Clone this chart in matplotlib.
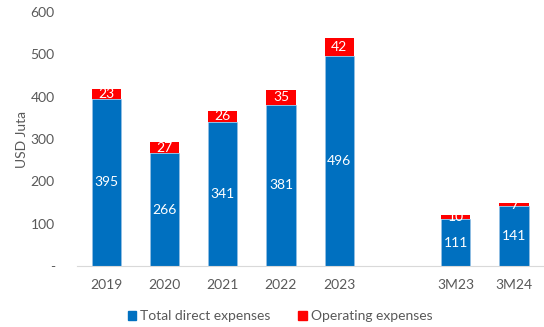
import matplotlib
matplotlib.use("Agg")
import matplotlib.pyplot as plt

categories = ["2019", "2020", "2021", "2022", "2023", "", "3M23", "3M24"]
direct = [395, 266, 341, 381, 496, None, 111, 141]
operating = [23, 27, 26, 35, 42, None, 10, 7]

BLUE = "#0070C0"
RED = "#FF0000"
GREY = "#595959"

plt.rcParams["font.family"] = ["Lato", "DejaVu Sans"]
FS = 10

fig = plt.figure(figsize=(5.44, 3.27), dpi=100)
ax = fig.add_axes([0.1415, 0.1865, 0.857, 0.7765])

xs = list(range(len(categories)))
for x, d, o in zip(xs, direct, operating):
    if d is None:
        continue
    ax.bar(x, d, width=0.5, color=BLUE, edgecolor="#9dc3e6", linewidth=0.4)
    ax.bar(x, o, bottom=d, width=0.5, color=RED)
    ax.text(x, d / 2, str(d), ha="center", va="center", color="white", fontsize=FS)
    ax.text(x, d + o / 2, str(o), ha="center", va="center", color="white", fontsize=FS)

ax.set_xlim(-0.5, len(categories) - 0.5)
ax.set_ylim(0, 600)
ax.set_yticks(range(0, 601, 100))
ax.set_yticklabels(["-"] + [str(v) for v in range(100, 601, 100)])
ax.set_xticks(xs)
ax.set_xticklabels(categories)
ax.tick_params(axis="both", length=0, colors=GREY, labelsize=FS)
ax.tick_params(axis="x", pad=9)
ax.tick_params(axis="y", pad=16)
for side in ["top", "right", "left"]:
    ax.spines[side].set_visible(False)
ax.spines["bottom"].set_color("#d9d9d9")
ax.set_ylabel("USD Juta", color=GREY, fontsize=FS, labelpad=2)

handles = [plt.Rectangle((0, 0), 1, 1, color=BLUE), plt.Rectangle((0, 0), 1, 1, color=RED)]
fig.legend(handles, ["Total direct expenses", "Operating expenses"],
           loc="center", bbox_to_anchor=(0.515, 0.033), ncol=2, frameon=False,
           fontsize=FS, labelcolor=GREY, handlelength=0.6, handleheight=0.6,
           handletextpad=0.3, columnspacing=2.0)

fig.savefig("out.png", dpi=100)
